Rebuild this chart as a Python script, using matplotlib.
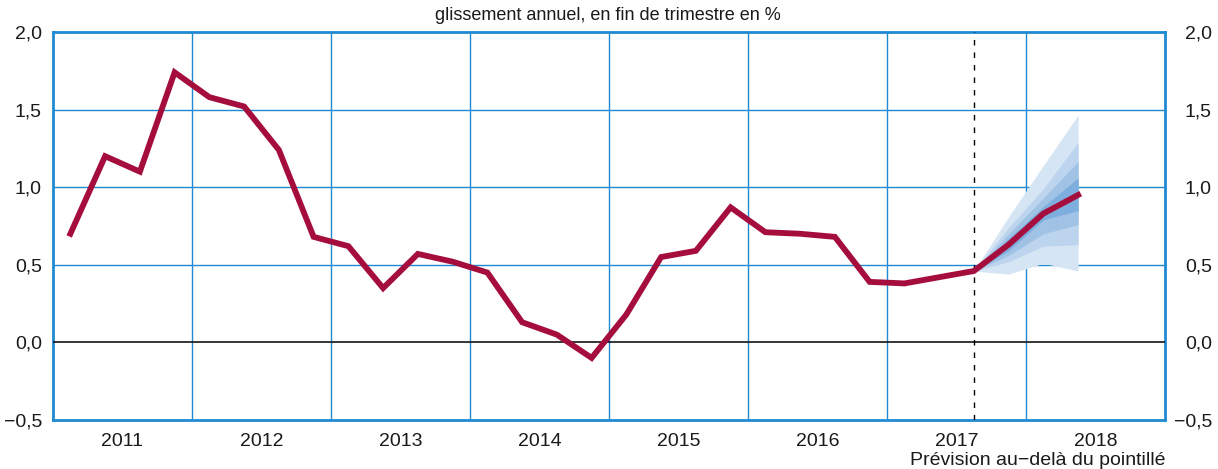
import numpy as np
import matplotlib.pyplot as plt
import matplotlib.transforms as mtransforms

plt.rcParams['font.family'] = ['Liberation Sans', 'DejaVu Sans']

# valeurs trimestrielles 2011T1 .. 2017T3 (glissement annuel, %)
hist_values = [0.70, 1.20, 1.10, 1.74,
               1.58, 1.52, 1.24, 0.68,
               0.62, 0.35, 0.57, 0.52,
               0.45, 0.13, 0.05, -0.10,
               0.18, 0.55, 0.59, 0.87,
               0.71, 0.70, 0.68, 0.39,
               0.38, 0.42, 0.46]
# prévision 2017T3 (point de départ) .. 2018T2
fc_center = [0.46, 0.63, 0.83, 0.95]
# bandes d'incertitude (basse, haute), de la plus large à la plus étroite
fc_bands = [
    ([0.46, 0.44, 0.51, 0.46], [0.46, 0.81, 1.14, 1.465]),
    ([0.46, 0.52, 0.62, 0.63], [0.46, 0.74, 0.99, 1.29]),
    ([0.46, 0.56, 0.70, 0.76], [0.46, 0.70, 0.93, 1.165]),
    ([0.46, 0.59, 0.79, 0.85], [0.46, 0.67, 0.875, 1.06]),
]
band_colors = ['#d6e5f4', '#bcd4ed', '#a0c2e5', '#7eaedd']
years = [2011, 2012, 2013, 2014, 2015, 2016, 2017, 2018]
yticks = [-0.5, 0, 0.5, 1.0, 1.5, 2.0]
ylabels = ['\u22120,5', '0,0', '0,5', '1,0', '1,5', '2,0']

blue = '#1f8ad2'
red = '#a50d3d'
txt = '#1a1a1a'

# position au milieu de chaque trimestre
x_hist = 2011 + (np.arange(len(hist_values)) + 0.5) / 4
x_fc = x_hist[-1] + np.arange(len(fc_center)) / 4

fig = plt.figure(figsize=(12.18, 4.69), dpi=100)
ax = fig.add_axes([53 / 1218, 1 - 420 / 469, 1112 / 1218, 388 / 469])

for (lo, hi), c in zip(fc_bands, band_colors):
    ax.fill_between(x_fc, lo, hi, color=c, lw=0, zorder=2)

ax.axhline(0, color='black', lw=1.1, zorder=3)
ax.plot(np.r_[x_hist, x_fc[1:]], hist_values + fc_center[1:], color=red, lw=4.2,
        solid_joinstyle='miter', zorder=4)
ax.axvline(x_hist[-1], color='black', lw=1, ls=(0, (4, 5)), zorder=3)

ax.set_xlim(2011, 2019)
ax.set_ylim(-0.5, 2.0)
ax.set_xticks(np.arange(2012, 2019))
ax.set_xticks(np.array(years) + 0.5, minor=True)
ax.set_xticklabels([])
ax.set_xticklabels([str(y) for y in years], minor=True)
ax.set_yticks(yticks)
ax.set_yticklabels(ylabels)
ax.tick_params(axis='both', which='both', length=0, labelsize=14, colors=txt)
ax.tick_params(axis='x', which='minor', pad=9)
ax.tick_params(axis='y', pad=8)

# étiquettes de droite, alignées à droite près du bord
trans = mtransforms.blended_transform_factory(ax.transAxes, ax.transData)
for v, lab in zip(yticks, ylabels):
    ax.text(1 + 47 / 1112, v, lab, transform=trans, ha='right', va='center_baseline',
            fontsize=14, color=txt, clip_on=False)

for y in [0.5, 1.0, 1.5]:
    ax.axhline(y, color=blue, lw=1, zorder=1)
for x in range(2012, 2019):
    ax.axvline(x, color=blue, lw=1, zorder=1)
for s in ax.spines.values():
    s.set_color(blue)
    s.set_linewidth(2)

fig.text(608 / 1218, 1 - 15 / 469, 'glissement annuel, en fin de trimestre en %',
         ha='center', va='center', fontsize=13, color=txt)
fig.text(1166 / 1218, 1 - 460 / 469, 'Prévision au\u2212delà du pointillé',
         ha='right', va='center', fontsize=14, color=txt)

fig.savefig('out.png', dpi=100)
